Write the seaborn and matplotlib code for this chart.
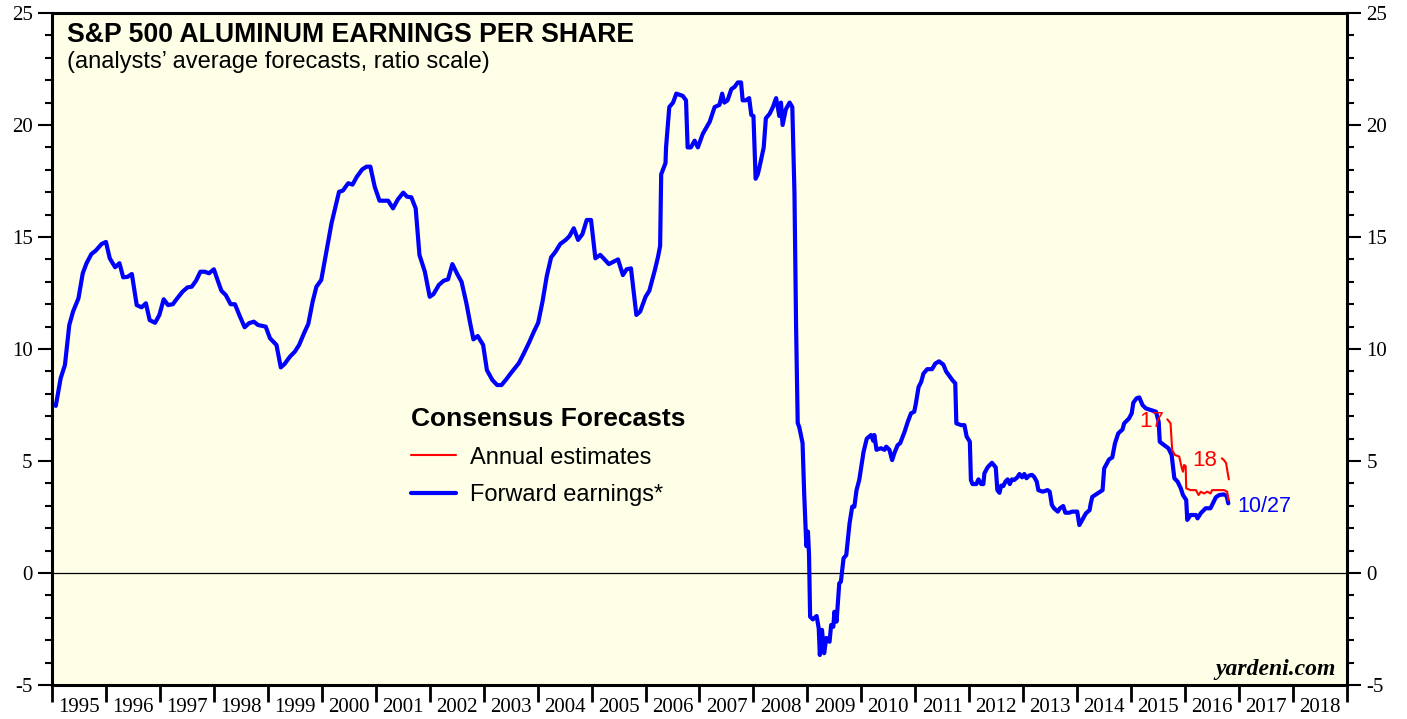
import matplotlib
matplotlib.use("Agg")
import matplotlib.pyplot as plt
from matplotlib.ticker import MultipleLocator, FixedLocator
import seaborn as sns
import pandas as pd

# forward earnings (weekly consensus), decimal years
fwd_year = [
    1995.07, 1995.16, 1995.24, 1995.32, 1995.39, 1995.49, 1995.57, 1995.64, 1995.73, 1995.81,
    1995.92, 1996.00, 1996.07, 1996.17, 1996.25, 1996.32, 1996.40, 1996.48, 1996.57, 1996.66,
    1996.74, 1996.81, 1996.91, 1996.99, 1997.07, 1997.15, 1997.24, 1997.32, 1997.42, 1997.51,
    1997.59, 1997.67, 1997.75, 1997.83, 1997.91, 1998.00, 1998.08, 1998.14, 1998.22, 1998.31,
    1998.39, 1998.48, 1998.57, 1998.65, 1998.74, 1998.82, 1998.90, 1998.96, 1999.04, 1999.16,
    1999.24, 1999.31, 1999.41, 1999.50, 1999.58, 1999.67, 1999.75, 1999.83, 1999.90, 1999.99,
    2000.09, 2000.18, 2000.24, 2000.32, 2000.39, 2000.49, 2000.57, 2000.65, 2000.75, 2000.83,
    2000.90, 2000.98, 2001.07, 2001.23, 2001.32, 2001.41, 2001.51, 2001.58, 2001.66, 2001.74,
    2001.81, 2001.91, 2002.00, 2002.07, 2002.17, 2002.26, 2002.34, 2002.42, 2002.51, 2002.59,
    2002.68, 2002.75, 2002.81, 2002.89, 2002.99, 2003.06, 2003.16, 2003.25, 2003.33, 2003.42,
    2003.51, 2003.65, 2003.74, 2003.84, 2003.93, 2004.01, 2004.09, 2004.17, 2004.25, 2004.33,
    2004.42, 2004.52, 2004.59, 2004.67, 2004.75, 2004.83, 2004.91, 2004.99, 2005.07, 2005.16,
    2005.24, 2005.32, 2005.41, 2005.49, 2005.58, 2005.65, 2005.73, 2005.83, 2005.90, 2006.00,
    2006.07, 2006.17, 2006.23, 2006.27, 2006.29, 2006.37, 2006.38, 2006.44, 2006.51, 2006.57,
    2006.69, 2006.75, 2006.78, 2006.84, 2006.91, 2006.97, 2007.06, 2007.12, 2007.19, 2007.28,
    2007.37, 2007.42, 2007.46, 2007.52, 2007.59, 2007.65, 2007.71, 2007.77, 2007.80, 2007.86,
    2007.92, 2007.96, 2008.00, 2008.04, 2008.08, 2008.11, 2008.19, 2008.23, 2008.30, 2008.36,
    2008.42, 2008.48, 2008.51, 2008.54, 2008.60, 2008.67, 2008.72, 2008.76, 2008.79, 2008.82,
    2008.85, 2008.91, 2008.94, 2008.98, 2009.01, 2009.03, 2009.05, 2009.10, 2009.17, 2009.21,
    2009.23, 2009.27, 2009.31, 2009.35, 2009.41, 2009.44, 2009.48, 2009.50, 2009.54, 2009.59,
    2009.62, 2009.67, 2009.72, 2009.78, 2009.83, 2009.87, 2009.91, 2009.96, 2010.04, 2010.10,
    2010.18, 2010.22, 2010.24, 2010.28, 2010.36, 2010.43, 2010.46, 2010.52, 2010.57, 2010.61,
    2010.67, 2010.72, 2010.80, 2010.86, 2010.92, 2010.98, 2011.01, 2011.06, 2011.11, 2011.15,
    2011.22, 2011.31, 2011.37, 2011.44, 2011.52, 2011.57, 2011.63, 2011.69, 2011.74, 2011.76,
    2011.85, 2011.91, 2011.95, 2012.01, 2012.03, 2012.06, 2012.13, 2012.17, 2012.22, 2012.26,
    2012.28, 2012.34, 2012.42, 2012.46, 2012.49, 2012.52, 2012.56, 2012.59, 2012.63, 2012.67,
    2012.71, 2012.75, 2012.79, 2012.83, 2012.89, 2012.93, 2012.98, 2013.02, 2013.06, 2013.11,
    2013.16, 2013.20, 2013.25, 2013.28, 2013.36, 2013.45, 2013.49, 2013.53, 2013.57, 2013.64,
    2013.68, 2013.74, 2013.78, 2013.85, 2013.91, 2014.00, 2014.04, 2014.10, 2014.16, 2014.23,
    2014.25, 2014.28, 2014.38, 2014.47, 2014.50, 2014.59, 2014.65, 2014.70, 2014.76, 2014.84,
    2014.87, 2014.96, 2015.01, 2015.04, 2015.10, 2015.15, 2015.21, 2015.27, 2015.36, 2015.46,
    2015.51, 2015.53, 2015.61, 2015.69, 2015.75, 2015.80, 2015.86, 2015.92, 2015.96, 2016.02,
    2016.04, 2016.10, 2016.20, 2016.23, 2016.29, 2016.38, 2016.47, 2016.50, 2016.57, 2016.63,
    2016.72, 2016.77, 2016.80,
]
fwd_eps = [
    7.46, 8.69, 9.29, 11.07, 11.67, 12.26, 13.38, 13.83, 14.24, 14.39,
    14.69, 14.78, 14.05, 13.65, 13.83, 13.20, 13.22, 13.35, 11.96, 11.86,
    12.04, 11.29, 11.17, 11.52, 12.22, 11.96, 12.00, 12.26, 12.56, 12.75,
    12.78, 13.05, 13.45, 13.45, 13.38, 13.56, 13.00, 12.60, 12.41, 12.00,
    12.00, 11.47, 10.97, 11.15, 11.22, 11.07, 11.03, 11.00, 10.48, 10.18,
    9.18, 9.33, 9.66, 9.88, 10.18, 10.70, 11.12, 12.11, 12.78, 13.08,
    14.42, 15.61, 16.21, 17.02, 17.07, 17.40, 17.34, 17.69, 18.02, 18.14,
    18.14, 17.25, 16.62, 16.62, 16.28, 16.68, 16.98, 16.80, 16.77, 16.28,
    14.20, 13.45, 12.33, 12.45, 12.86, 13.05, 13.11, 13.79, 13.35, 13.00,
    12.04, 11.15, 10.43, 10.58, 10.18, 9.06, 8.62, 8.39, 8.39, 8.65,
    8.94, 9.36, 9.78, 10.28, 10.77, 11.17, 12.11, 13.26, 14.09, 14.34,
    14.69, 14.87, 15.04, 15.39, 14.87, 15.13, 15.76, 15.76, 14.05, 14.20,
    14.00, 13.79, 13.90, 14.00, 13.30, 13.56, 13.60, 11.52, 11.67, 12.33,
    12.60, 13.50, 14.10, 14.60, 17.80, 18.30, 19.00, 20.80, 21.00, 21.40,
    21.30, 21.10, 19.00, 19.00, 19.30, 19.00, 19.60, 19.85, 20.15, 20.80,
    20.90, 21.40, 21.00, 21.10, 21.60, 21.70, 21.90, 21.90, 21.10, 21.10,
    21.20, 20.45, 20.40, 17.60, 17.80, 18.10, 19.00, 20.30, 20.50, 20.80,
    21.20, 20.40, 21.00, 20.00, 20.70, 21.00, 20.80, 16.95, 11.00, 6.70,
    6.50, 5.80, 3.55, 1.20, 1.85, 0.80, -1.95, -2.07, -1.92, -2.47,
    -3.66, -2.54, -3.58, -2.90, -3.07, -2.32, -2.40, -1.73, -2.17, -0.46,
    -0.39, 0.66, 0.80, 2.20, 2.96, 2.96, 3.70, 4.15, 5.40, 6.00,
    6.16, 5.90, 6.16, 5.50, 5.57, 5.50, 5.64, 5.50, 5.04, 5.34,
    5.70, 5.80, 6.30, 6.75, 7.13, 7.20, 7.57, 8.30, 8.54, 8.90,
    9.10, 9.10, 9.35, 9.45, 9.30, 9.00, 8.80, 8.60, 8.47, 6.68,
    6.60, 6.60, 6.10, 5.86, 4.15, 3.97, 3.97, 4.18, 3.97, 3.97,
    4.45, 4.72, 4.92, 4.80, 4.72, 3.70, 3.58, 3.90, 3.88, 4.08,
    4.18, 3.97, 4.18, 4.15, 4.27, 4.42, 4.27, 4.42, 4.23, 4.35,
    4.38, 4.30, 4.08, 3.70, 3.63, 3.70, 3.63, 3.04, 2.89, 2.74,
    2.89, 2.99, 2.69, 2.69, 2.74, 2.74, 2.14, 2.40, 2.66, 2.81,
    3.10, 3.40, 3.56, 3.70, 4.67, 5.07, 5.16, 5.79, 6.23, 6.41,
    6.68, 6.90, 7.13, 7.60, 7.80, 7.84, 7.50, 7.35, 7.28, 7.20,
    6.75, 5.86, 5.71, 5.57, 5.27, 4.23, 4.08, 3.78, 3.48, 3.26,
    2.37, 2.59, 2.59, 2.44, 2.67, 2.89, 2.89, 3.04, 3.38, 3.48,
    3.51, 3.44, 3.11,
]

# annual consensus estimates for 2017 and 2018
est17_year = [2015.67, 2015.73, 2015.76, 2015.81, 2015.89, 2015.94, 2015.96, 2015.98, 2016.01, 2016.02,
              2016.10, 2016.20, 2016.25, 2016.29, 2016.35, 2016.41, 2016.47, 2016.50, 2016.72, 2016.78,
              2016.80]
est17_eps = [6.86, 6.68, 5.49, 5.27, 5.20, 4.67, 4.52, 4.82, 4.78, 3.78,
             3.70, 3.70, 3.48, 3.63, 3.55, 3.63, 3.55, 3.70, 3.70, 3.63,
             3.26]
est18_year = [2016.68, 2016.72, 2016.76, 2016.78, 2016.81]
est18_eps = [5.12, 5.04, 4.90, 4.60, 4.18]

years = list(range(1995, 2019))

BG = "#fffee6"
BLUE = "#0000ff"
RED = "#ff0000"
SANS = "Liberation Sans"

sns.set_theme(style="ticks")
plt.rcParams["font.family"] = ["Liberation Serif", "DejaVu Serif"]
plt.rcParams["text.color"] = "black"
plt.rcParams["xtick.color"] = "black"
plt.rcParams["ytick.color"] = "black"
plt.rcParams["axes.unicode_minus"] = False

fig = plt.figure(figsize=(14.07, 7.19), dpi=100)
ax = fig.add_axes([52 / 1407, 34 / 719, 1295 / 1407, 672 / 719])
ax.set_facecolor(BG)

ax.axhline(0, color="black", linewidth=0.9, zorder=1)

fwd = pd.DataFrame({"year": fwd_year, "eps": fwd_eps})
sns.lineplot(data=fwd, x="year", y="eps", ax=ax, color=BLUE, linewidth=3.0,
             estimator=None, sort=False, label="Forward earnings*", zorder=3)
sns.lineplot(x=est17_year, y=est17_eps, ax=ax, color=RED, linewidth=1.5,
             estimator=None, sort=False, label="Annual estimates", zorder=4)
sns.lineplot(x=est18_year, y=est18_eps, ax=ax, color=RED, linewidth=1.5,
             estimator=None, sort=False, zorder=4)

ax.set_xlim(1995, 2019)
ax.set_ylim(-5, 25)
ax.set_xlabel("")
ax.set_ylabel("")

# y axis: labels on both sides, minor ticks every unit
ax.set_yticks(range(-5, 26, 5))
ax.yaxis.set_minor_locator(MultipleLocator(1))
ax.tick_params(axis="y", which="both", direction="out", left=True, right=True,
               labelleft=True, labelright=True, labelsize=15, width=1.5)
ax.tick_params(axis="y", which="major", length=10, pad=4)
ax.tick_params(axis="y", which="minor", length=5)

# x axis: ticks at year boundaries, labels centred within each year
ax.xaxis.set_major_locator(FixedLocator(list(range(1995, 2020))))
ax.xaxis.set_minor_locator(FixedLocator([y + 0.5 for y in years]))
ax.set_xticklabels([])
ax.set_xticklabels([str(y) for y in years], minor=True)
ax.tick_params(axis="x", which="major", direction="out", length=12, width=2)
ax.tick_params(axis="x", which="minor", length=0, pad=9, labelsize=15)

for side in ["left", "right", "top", "bottom"]:
    ax.spines[side].set_visible(True)
    ax.spines[side].set_linewidth(2.2)
    ax.spines[side].set_color("black")

# titles
ax.text(0.0112, 0.957, "S&P 500 ALUMINUM EARNINGS PER SHARE", transform=ax.transAxes,
        family=SANS, fontsize=19.2, fontweight="bold", va="baseline", ha="left")
ax.text(0.0112, 0.918, "(analysts\u2019 average forecasts, ratio scale)", transform=ax.transAxes,
        family=SANS, fontsize=17, va="baseline", ha="left")

# series annotations
ax.text(2015.15, 6.53, "17", color=RED, family=SANS, fontsize=16, va="baseline")
ax.text(2016.13, 4.78, "18", color=RED, family=SANS, fontsize=16, va="baseline")
ax.text(2016.96, 2.72, "10/27", color=BLUE, family=SANS, fontsize=15.5, va="baseline")

ax.text(0.9915, 0.0149, "yardeni.com", transform=ax.transAxes, family="Liberation Serif",
        fontsize=17, fontweight="bold", style="italic", ha="right", va="baseline")

# legend
handles, labels = ax.get_legend_handles_labels()
order = [labels.index("Annual estimates"), labels.index("Forward earnings*")]
leg = ax.legend([handles[i] for i in order], [labels[i] for i in order],
                title="Consensus Forecasts", loc="upper left",
                bbox_to_anchor=(0.2772, 0.4135), frameon=False, alignment="left",
                borderpad=0, borderaxespad=0, handlelength=1.9, handletextpad=0.6,
                labelspacing=0.66,
                prop={"family": SANS, "size": 17},
                title_fontproperties={"family": SANS, "size": 19, "weight": "bold"})
leg.get_lines()[0].set_linewidth(1.5)
leg.get_lines()[1].set_linewidth(3.0)

fig.savefig("out.png", dpi=100, facecolor="white")
